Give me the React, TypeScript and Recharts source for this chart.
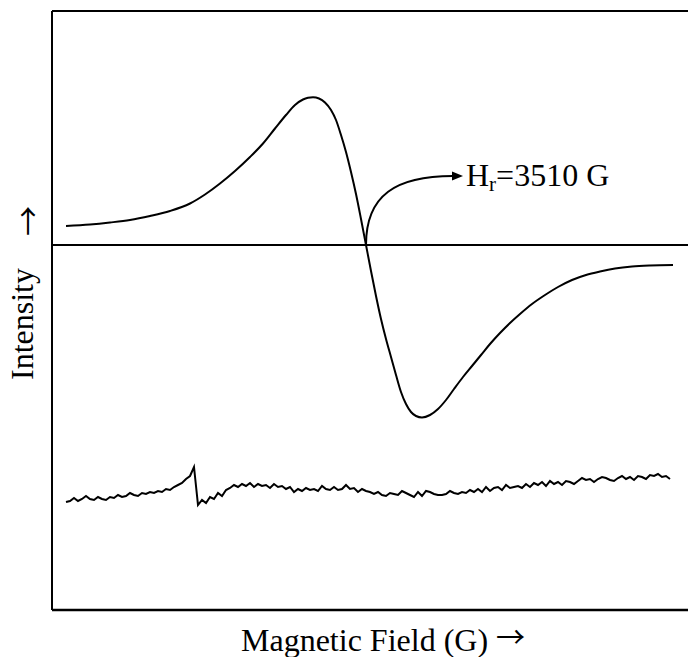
import { Line, LineChart, ReferenceDot, ReferenceLine, XAxis, YAxis } from "recharts";

// EPR derivative signal, field in gauss, intensity in arbitrary units
const signalField = [
  2910, 2958, 2998, 3038, 3078, 3118, 3158, 3188, 3218, 3248, 3278, 3304, 3328, 3350, 3368,
  3384, 3394, 3404, 3416, 3428, 3440, 3450, 3460, 3470, 3480, 3490, 3500, 3510, 3520, 3530,
  3540, 3550, 3560, 3570, 3580, 3590, 3600, 3610, 3622, 3638, 3654, 3670, 3686, 3704, 3722,
  3740, 3758, 3778, 3798, 3818, 3842, 3868, 3894, 3922, 3950, 3978, 4008, 4042, 4078, 4124,
];
const signalIntensity = [
  19, 20.5, 22.5, 25, 29, 34, 41.5, 50.5, 61.5, 74, 88, 101.5, 116.5, 130, 140,
  145.5, 147.2, 147.7, 146.5, 142.5, 135, 125, 110, 93, 73, 51, 26, 0, -26, -51,
  -74, -94, -112, -130, -147, -159, -167, -171, -172.5, -170, -164, -155, -144, -132, -121,
  -110, -99, -88, -78, -69, -59, -50, -42, -35, -30, -26.5, -23.5, -21.5, -20.5, -20,
];

// reference scan, sampled every 8 G from 2910 G
const scanStart = 2910;
const scanStep = 8;
const scanIntensity = [
  -257, -256, -253, -256, -254, -251, -254, -255, -252, -254, -255, -252, -253, -250, -252, -251,
  -248, -250, -251, -248, -249, -247, -248, -246, -247, -244, -245, -242, -240, -238, -234, -231,
  -222, -260, -255, -258, -252, -254, -248, -251, -245, -243, -240, -242, -239, -241, -238, -242,
  -239, -241, -240, -243, -239, -242, -241, -244, -242, -247, -244, -246, -243, -245, -244, -246,
  -241, -244, -245, -242, -245, -244, -240, -244, -243, -247, -244, -246, -247, -249, -247, -250,
  -251, -248, -249, -250, -246, -248, -250, -252, -247, -251, -246, -247, -249, -250, -250, -249,
  -246, -248, -249, -247, -248, -245, -247, -244, -247, -242, -246, -243, -242, -245, -240, -243,
  -242, -241, -243, -239, -242, -238, -240, -237, -241, -236, -239, -237, -240, -236, -237, -239,
  -236, -233, -235, -234, -237, -234, -232, -233, -235, -236, -233, -231, -234, -232, -235, -231,
  -232, -234, -230, -231, -229, -232, -231, -234,
];

const fieldDomain = [2882, 4154];
const intensityDomain = [-365, 234];

const resonanceField = 3510;
const resonanceLabel = "3510 G";

const signal = signalField.map((field, i) => ({ field, intensity: signalIntensity[i] }));
const scan = scanIntensity.map((intensity, i) => ({ field: scanStart + scanStep * i, intensity }));

const FONT = '"Liberation Serif", "Times New Roman", serif';
const ARROW_FONT = '"Noto Sans CJK JP", "DejaVu Serif", serif';

function ResonanceArrow({ cx, cy }: { cx?: number; cy?: number }) {
  if (cx == null || cy == null) return null;
  return (
    <g>
      <path d={`M${cx},${cy} C${cx},${cy - 50} ${cx + 30},${cy - 69} ${cx + 87},${cy - 69}`}
        fill="none" stroke="#000" strokeWidth={2} />
      <polygon points={`${cx + 97},${cy - 69} ${cx + 86},${cy - 73.5} ${cx + 86},${cy - 64.5}`} fill="#000" />
      <text x={cx + 100} y={cy - 59} fontFamily={FONT} fontSize={32} fill="#000">
        H<tspan fontSize={21} dy={5}>r</tspan><tspan dy={-5}>={resonanceLabel}</tspan>
      </text>
    </g>
  );
}

function FieldLabel({ viewBox }: any) {
  const { x, y } = viewBox;
  return (
    <text x={x + 189} y={y + 41} fontFamily={FONT} fontSize={32} fill="#000">
      Magnetic Field (G) <tspan fontFamily={ARROW_FONT} fontSize={29} dy={-3}>→</tspan>
    </text>
  );
}

function IntensityLabel({ viewBox }: any) {
  const { x, y, height } = viewBox;
  const top = Math.min(y, y + height);
  const lx = x - 19;
  const ax = x - 13;
  return (
    <g fontFamily={FONT} fontSize={32} fill="#000">
      <text x={lx} y={top + 313} transform={`rotate(-90 ${lx} ${top + 313})`} textAnchor="middle">
        Intensity
      </text>
      <text x={ax} y={top + 210} transform={`rotate(-90 ${ax} ${top + 210})`} textAnchor="middle"
        fontFamily={ARROW_FONT} fontSize={30}>
        →
      </text>
    </g>
  );
}

export default function App() {
  return (
    <div style={{ position: "fixed", left: 0, top: 0, width: 688, height: 657, overflow: "hidden", background: "#fff" }}>
      <LineChart width={700} height={657} margin={{ top: 11, right: 12, bottom: 47, left: 52 }}>
        <XAxis dataKey="field" type="number" domain={fieldDomain} allowDataOverflow hide />
        <YAxis type="number" domain={intensityDomain} allowDataOverflow hide />
        {/* frame: top, bottom and left edges */}
        <ReferenceLine y={intensityDomain[1]} stroke="#000" strokeWidth={2} />
        <ReferenceLine y={intensityDomain[0]} stroke="#000" strokeWidth={2.5} label={FieldLabel} />
        <ReferenceLine x={fieldDomain[0]} stroke="#000" strokeWidth={2} label={IntensityLabel} />
        <ReferenceLine y={0} stroke="#000" strokeWidth={2} />
        <Line data={signal} dataKey="intensity" type="monotone" stroke="#000" strokeWidth={2}
          dot={false} isAnimationActive={false} />
        <Line data={scan} dataKey="intensity" type="linear" stroke="#000" strokeWidth={2}
          dot={false} isAnimationActive={false} />
        <ReferenceDot x={resonanceField} y={0} r={0} shape={ResonanceArrow} />
      </LineChart>
    </div>
  );
}
